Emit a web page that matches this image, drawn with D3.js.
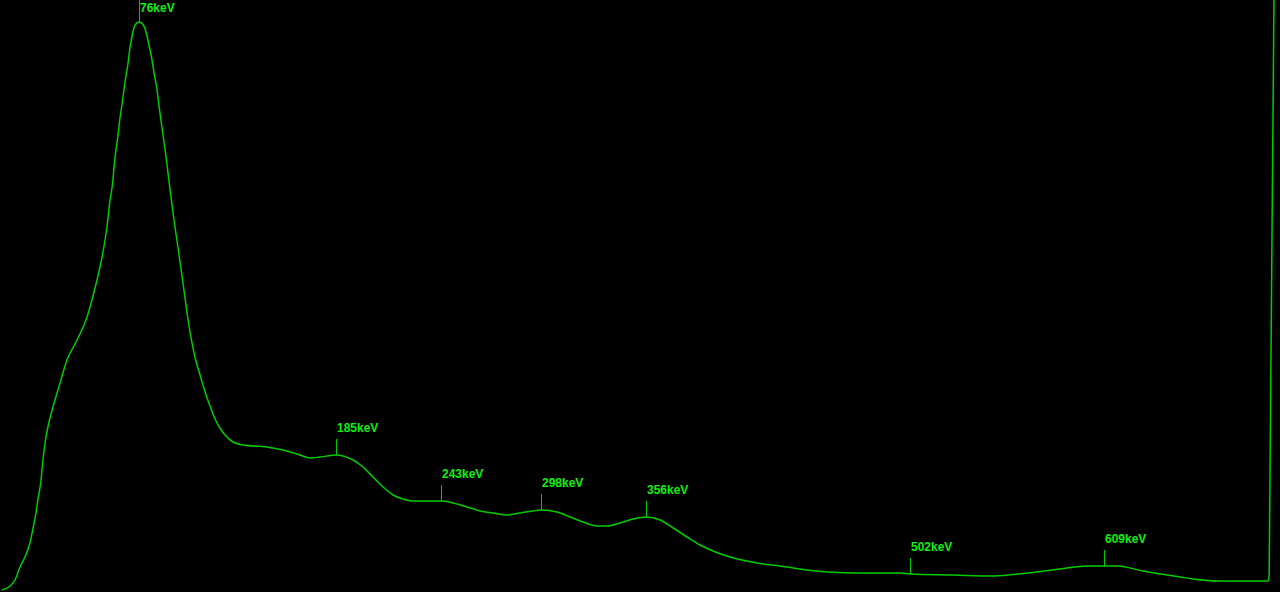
<!DOCTYPE html>
<html>
<head>
<meta charset="utf-8">
<script src="https://cdn.jsdelivr.net/npm/d3@7"></script>
<style>
  html, body { margin: 0; padding: 0; background: #000; overflow: hidden; }
  svg { display: block; background: #000; }
</style>
</head>
<body>
<svg id="chart" width="1280" height="592"></svg>
<script>
// Energy (keV) of each sampled spectrum point
const energies = [0.3, 4.75, 7.5, 10.3, 13.0, 15.8, 17.5, 19.1, 20.2, 21.9, 22.4, 24.1, 25.7, 28.5, 32.4, 36.2, 41.8, 47.3, 50.0, 52.8, 55.6, 58.3, 60.0, 61.3, 62.7, 64.2, 65.5, 66.8, 68.3, 69.8, 71.0, 72.3, 73.8, 76,
  78.4, 80.3, 81.5, 83.0, 84.5, 85.8, 87.2, 88.5, 89.8, 91.3, 92.6, 94.8, 97.5, 100.3, 103.1, 106.9, 109.7, 112.5, 115.2, 118.0, 120.7, 123.5, 127.9, 133.4, 146.7, 155.5, 164.9, 170.5, 176.0, 185,
  188.7, 194.2, 199.7, 205.2, 210.8, 216.3, 221.8, 227.3, 238.4, 243, 249.4, 257.2, 264.4, 271.5, 279.3, 286.4, 293.6, 298, 306.9, 314.1, 321.2, 329.0, 334.5, 341.7, 348.9, 356,
  363.8, 371.0, 378.7, 385.9, 393.0, 402.4, 411.8, 420.7, 430.0, 437.2, 456.0, 474.2, 496.3, 502, 525.6, 547.7, 566.5, 584.7, 599.6, 609, 616.2, 630.5, 651.0, 658.2, 673.1, 693.5, 699.6, 700.2, 702.9];
// Counts read at each energy
const counts = [0, 40, 100, 230, 330, 470, 620, 770, 910, 1100, 1200, 1470, 1630, 1830, 2070, 2300, 2500, 2730, 2900, 3100, 3330, 3630, 3900, 4050, 4320, 4520, 4720, 4880, 5080, 5250, 5420, 5550, 5650, 5680,
  5650, 5550, 5450, 5320, 5150, 5020, 4820, 4650, 4480, 4280, 4080, 3770, 3430, 3070, 2700, 2330, 2150, 1980, 1840, 1710, 1620, 1550, 1480, 1450, 1430, 1400, 1350, 1320, 1330, 1350,
  1340, 1300, 1230, 1130, 1030, 950, 910, 890, 890, 890, 870, 830, 790, 770, 750, 770, 790, 800, 780, 730, 680, 640, 640, 670, 710, 730,
  700, 620, 530, 450, 390, 330, 290, 260, 240, 220, 180, 170, 170, 160, 150, 140, 170, 210, 240, 240, 240, 190, 130, 110, 90, 90, 90, 150, 6000];

// Labelled peaks
const peakEnergies = [76, 185, 243, 298, 356, 502, 609];
const peakLabels = ["76keV", "185keV", "243keV", "298keV", "356keV", "502keV", "609keV"];

const svg = d3.select("#chart");

const x = d3.scaleLinear().domain([0, 700]).range([1.4, 1268.8]);
const y = d3.scaleLinear().domain([0, 5680]).range([590, 22]);

const data = energies.map((e, i) => ({ e, c: counts[i] }));

const lineColor = "#00cc00";
const textColor = "#11ee11";

svg.append("path")
  .datum(data)
  .attr("fill", "none")
  .attr("stroke", lineColor)
  .attr("stroke-width", 1.5)
  .attr("stroke-linejoin", "round")
  .attr("d", d3.line().x(d => x(d.e)).y(d => y(d.c)).curve(d3.curveMonotoneX));

const tickLen = 16, gap = 7, minBase = 12;
peakEnergies.forEach((pe, i) => {
  const pt = data.find(d => d.e === pe);
  const px = Math.round(x(pe)) + 0.5;
  const py = y(pt.c);
  let tickTop = py - tickLen;
  let base = tickTop - gap;
  if (base < minBase) { base = minBase; tickTop = 0; }
  svg.append("line")
    .attr("x1", px).attr("x2", px)
    .attr("y1", tickTop).attr("y2", py)
    .attr("stroke", lineColor).attr("stroke-width", 1);
  svg.append("text")
    .attr("x", px + 0.5)
    .attr("y", base)
    .attr("fill", textColor)
    .attr("font-family", "'Liberation Sans', Arial, sans-serif")
    .attr("font-weight", "bold")
    .attr("font-size", "12px")
    .text(peakLabels[i]);
});
</script>
</body>
</html>
